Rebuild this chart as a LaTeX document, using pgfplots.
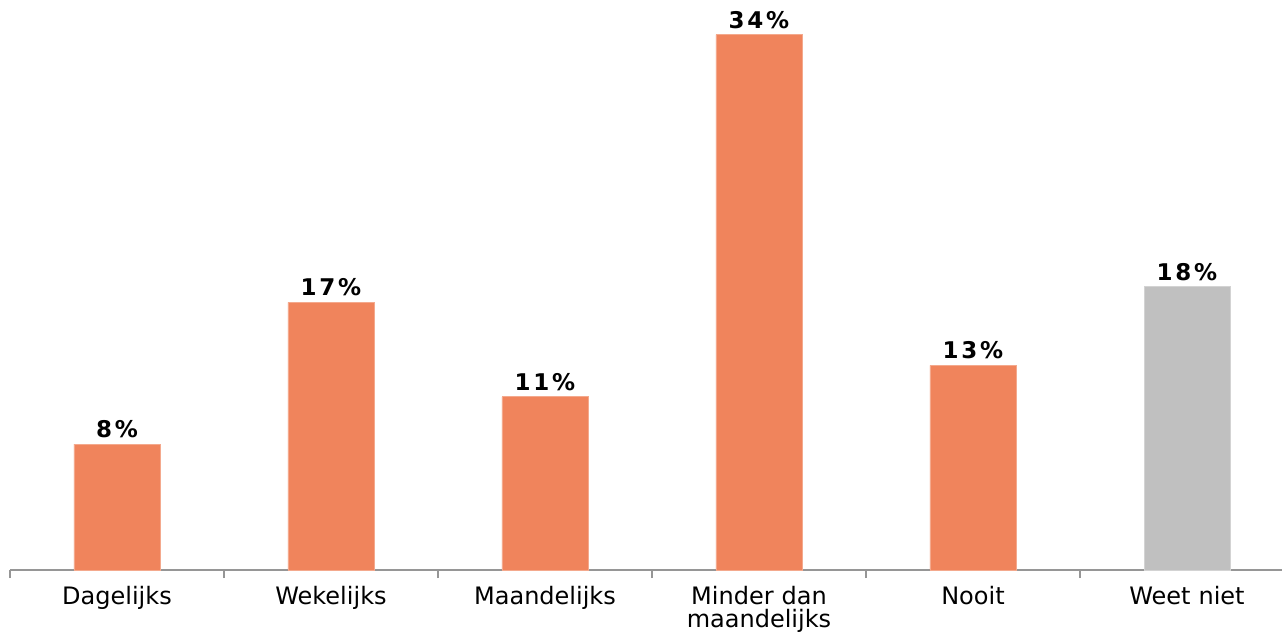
\documentclass[border=0pt]{standalone}
\usepackage{fontspec}
\setmainfont{DejaVu Sans}
\usepackage{pgfplots}
\pgfplotsset{compat=1.18}

\definecolor{barorange}{RGB}{240,132,92}
\definecolor{bargray}{RGB}{192,192,192}
\definecolor{axisgray}{RGB}{150,150,150}

\begin{document}
\begin{tikzpicture}
\useasboundingbox (-5pt,-32pt) rectangle (636pt,285pt);
\begin{axis}[
    scale only axis,
    width=636pt, height=283.5pt,
    ymin=0, ymax=36,
    xmin=-0.5, xmax=5.444,
    axis x line*=bottom,
    axis y line=none,
    x axis line style={axisgray, line width=0.8pt, -},
    xtick={0,1,2,3,4,5},
    xticklabels={Dagelijks, Wekelijks, Maandelijks, {Minder dan\\maandelijks}, Nooit, Weet niet},
    xticklabel style={font=\fontsize{12}{11.5}\selectfont, align=center, text width=90pt, yshift=-4.5pt},
    major tick length=0pt,
    minor xtick={-0.5,0.5,1.5,2.5,3.5,4.5},
    minor tick length=4pt,
    tick align=outside,
    minor tick style={axisgray, line width=0.8pt},
    ybar, bar width=43pt, bar shift=0pt,
    /pgf/number format/assume math mode=true,
    nodes near coords={\pgfmathprintnumber{\pgfplotspointmeta}\%},
    every node near coord/.append style={font=\bfseries\fontsize{11.5}{12}\selectfont\addfontfeature{LetterSpace=12}, black, yshift=-0.5pt},
    clip=false,
]
\addplot[fill=barorange, draw=barorange!70!white, line width=0.4pt] coordinates {(0,8) (1,17) (2,11) (3,34) (4,13)};
\addplot[fill=bargray, draw=bargray!70!white, line width=0.4pt] coordinates {(5,18)};
\end{axis}
\end{tikzpicture}
\end{document}
